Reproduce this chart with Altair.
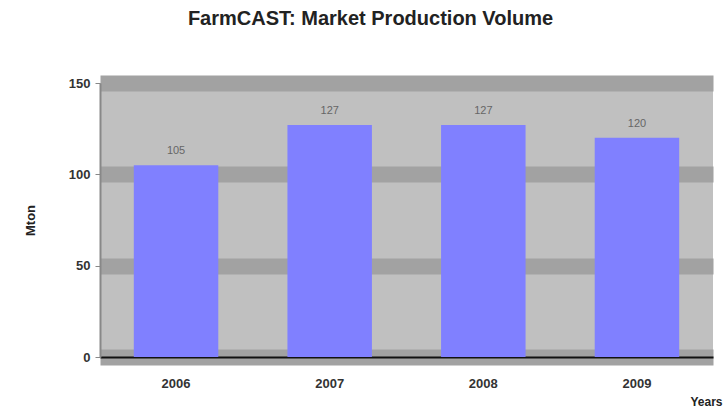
import altair as alt
import pandas as pd

# Production volume per year
years = ["2006", "2007", "2008", "2009"]
volumes = [105, 127, 127, 120]

df = pd.DataFrame({"Year": years, "Volume": volumes})

FONT = "Liberation Sans"

base = alt.Chart(df)

bars = base.mark_bar(color="#8080FF").encode(
    x=alt.X(
        "Year:N",
        sort=years,
        scale=alt.Scale(paddingInner=0.45, paddingOuter=0.22),
        axis=alt.Axis(
            title="Years",
            labelAngle=0,
            labelFontSize=13,
            labelFontWeight="bold",
            labelColor="#333333",
            labelPadding=20,
            tickSize=0,
            domainColor="#111111",
            domainWidth=2,
            titleFontSize=12,
            titleFontWeight="bold",
            titleColor="#222222",
            titleAnchor="end",
            titleAlign="right",
            titleBaseline="middle",
            titleX=622,
            titleY=44,
            grid=False,
        ),
    ),
    y=alt.Y(
        "Volume:Q",
        scale=alt.Scale(domain=[0, 150], nice=False),
        axis=alt.Axis(
            title="Mton",
            values=[0, 50, 100, 150],
            labelFontSize=13,
            labelFontWeight="bold",
            labelColor="#333333",
            labelPadding=5,
            tickSize=5,
            tickColor="#888888",
            domainColor="#888888",
            domainWidth=2,
            gridColor="#A2A2A2",
            gridWidth=16,
            titleFontSize=13,
            titleFontWeight="bold",
            titleColor="#222222",
            titleX=-70,
            titleY=137,
            titleAlign="center",
            titleBaseline="middle",
        ),
    ),
)

labels = base.mark_text(
    dy=-14, fontSize=11, font=FONT, color="#666666"
).encode(
    x=alt.X("Year:N", sort=years),
    y="Volume:Q",
    text="Volume:Q",
)

chart = (
    alt.layer(bars, labels)
    .properties(
        width=613,
        height=274,
        title=alt.TitleParams(
            "FarmCAST: Market Production Volume",
            fontSize=20,
            fontWeight="bold",
            font=FONT,
            color="#222222",
            anchor="middle",
            dx=-36,
            offset=48,
        ),
        autosize=alt.AutoSizeParams(type="none"),
        padding={"left": 100, "top": 83, "right": 14, "bottom": 55},
    )
    .configure(font=FONT)
    .configure_view(fill="#C0C0C0", stroke=None)
)

chart.save("out.html", embed_options={"renderer": "svg", "actions": False})
